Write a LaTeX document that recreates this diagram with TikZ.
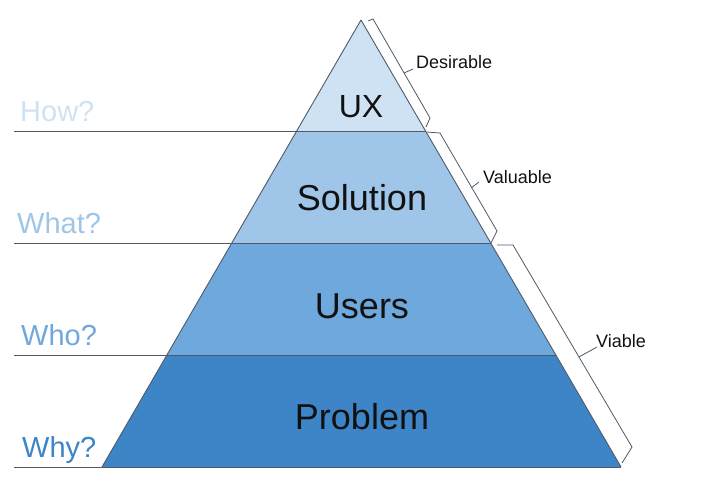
\documentclass[tikz,border=0pt]{standalone}
\usepackage{fontspec}
\setmainfont{Liberation Sans}
\usetikzlibrary{calc}
\definecolor{lvlA}{HTML}{CFE2F3}
\definecolor{lvlB}{HTML}{9FC5E8}
\definecolor{lvlC}{HTML}{6FA8DC}
\definecolor{lvlD}{HTML}{3D85C6}
\definecolor{edgecol}{HTML}{4F5A68}
\definecolor{ink}{HTML}{111111}
\begin{document}
\begin{tikzpicture}[x=1pt,y=-1pt,
  edgeline/.style={draw=edgecol,line width=0.9pt},
  layertext/.style={text=ink,font=\fontsize{36}{40}\selectfont,anchor=base,inner sep=0pt},
  asklabel/.style={font=\fontsize{29}{32}\selectfont,anchor=base west,inner sep=0pt},
  bracelabel/.style={text=ink,font=\fontsize{18}{20}\selectfont,anchor=base west,inner sep=0pt},
  bracket/.style={draw=edgecol,line width=0.8pt,line join=miter}]
\useasboundingbox (0,0) rectangle (720,483);
% pyramid geometry
\coordinate (apex) at (361,20);
\coordinate (bl) at (102,467);
\coordinate (br) at (621,467);
\coordinate (lx) at (14,0);
\coordinate (l1) at ($(apex)!0.25!(bl)$);
\coordinate (l2) at ($(apex)!0.5!(bl)$);
\coordinate (l3) at ($(apex)!0.75!(bl)$);
\coordinate (r1) at ($(apex)!0.25!(br)$);
\coordinate (r2) at ($(apex)!0.5!(br)$);
\coordinate (r3) at ($(apex)!0.75!(br)$);
\coordinate (s1) at (l1 -| lx);
\coordinate (s2) at (l2 -| lx);
\coordinate (s3) at (l3 -| lx);
\coordinate (s4) at (bl -| lx);
% layers
\fill[lvlA] (apex) -- (r1) -- (l1) -- cycle;
\fill[lvlB] (l1) -- (r1) -- (r2) -- (l2) -- cycle;
\fill[lvlC] (l2) -- (r2) -- (r3) -- (l3) -- cycle;
\fill[lvlD] (l3) -- (r3) -- (br) -- (bl) -- cycle;
% outlines and level lines
\draw[edgeline] (apex) -- (bl);
\draw[edgeline] (apex) -- (br);
\draw[edgeline] (s1) -- (r1);
\draw[edgeline] (s2) -- (r2);
\draw[edgeline] (s3) -- (r3);
\draw[edgeline] (s4) -- (br);
% layer texts
\node[layertext,font=\fontsize{32}{36}\selectfont] (ux) at (361,117) {UX};
\node[layertext] (solution) at (362,210) {Solution};
\node[layertext] (users) at (362,318) {Users};
\node[layertext] (problem) at (362,429) {Problem};
% question labels
\node[asklabel,text=lvlA] (how) at (20,121) {How?};
\node[asklabel,text=lvlB] (what) at (17,233) {What?};
\node[asklabel,text=lvlC] (who) at (21,345) {Who?};
\node[asklabel,text=lvlD] (why) at (22,457) {Why?};
% brackets
\coordinate (a1) at (368,21);
\coordinate (a2) at (373,19);
\coordinate (a3) at (430,118);
\coordinate (a4) at (426,127);
\coordinate (am) at (404,73);
\coordinate (at) at (413,69);
\draw[bracket] (a1) -- (a2) -- (a3) -- (a4);
\draw[bracket] (am) -- (at);
\coordinate (b1) at (427,132);
\coordinate (b2) at (440,133);
\coordinate (b3) at (497,231);
\coordinate (b4) at (491,243);
\coordinate (bm) at (471,188);
\coordinate (bt) at (479,182);
\draw[bracket] (b1) -- (b2) -- (b3) -- (b4);
\draw[bracket] (bm) -- (bt);
\coordinate (c1) at (497,245);
\coordinate (c2) at (513,245);
\coordinate (c3) at (632,447);
\coordinate (c4) at (622,463);
\coordinate (cm) at (579,357);
\coordinate (ct) at (597,347);
\draw[bracket] (c1) -- (c2) -- (c3) -- (c4);
\draw[bracket] (cm) -- (ct);
% bracket labels
\node[bracelabel] (desirable) at (416,68) {Desirable};
\node[bracelabel] (valuable) at (483,183) {Valuable};
\node[bracelabel] (viable) at (596,347) {Viable};
\end{tikzpicture}
\end{document}
